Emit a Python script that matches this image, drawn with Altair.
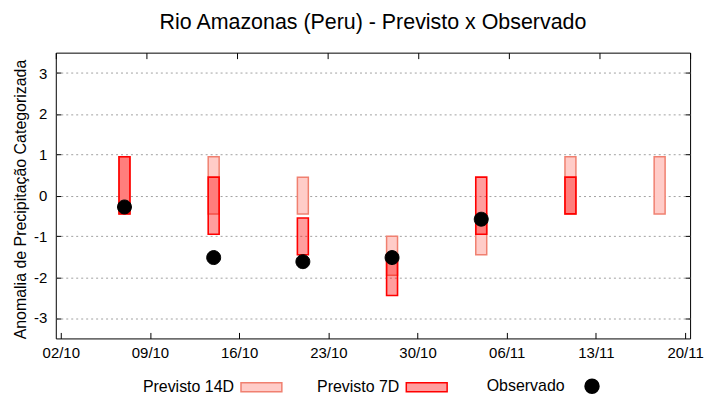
import altair as alt
import pandas as pd

# ---- data ----
datas = ["2024-10-07T00:00:00", "2024-10-14T00:00:00", "2024-10-21T00:00:00",
         "2024-10-28T00:00:00", "2024-11-04T00:00:00", "2024-11-11T00:00:00",
         "2024-11-18T00:00:00"]
prev14_min = [-0.45, -0.45, -0.45, -1.95, -1.45, -0.45, -0.45]
prev14_max = [0.95, 0.95, 0.45, -1.00, -0.45, 0.95, 0.95]
prev7_min = [-0.45, -0.95, -1.45, -2.45, -0.95, -0.45, None]
prev7_max = [0.95, 0.45, -0.55, -1.45, 0.45, 0.45, None]
observado = [-0.28, -1.52, -1.62, -1.52, -0.58, None, None]

series = ["Previsto 14D", "Previsto 7D", "Observado"]
fill_colors = ["#FFCCC8", "rgba(255,0,0,0.38)", "#000000"]
stroke_colors = ["#F08070", "#FF0000", "#000000"]
rect_path = "M-2.93,-0.64H2.93V0.64H-2.93Z"
circle_path = "M-1,0A1,1 0 1,0 1,0A1,1 0 1,0 -1,0Z"
shapes = [rect_path, rect_path, circle_path]

tick_dates = [(2024, 10, 2), (2024, 10, 9), (2024, 10, 16), (2024, 10, 23),
              (2024, 10, 30), (2024, 11, 6), (2024, 11, 13), (2024, 11, 20)]
y_ticks = [-3, -2, -1, 0, 1, 2, 3]
y_domain = [-3.5, 3.5]

# ---- tables ----
rows = []
for d, lo, hi in zip(datas, prev14_min, prev14_max):
    rows.append({"data": d, "serie": "Previsto 14D", "lo": lo, "hi": hi})
for d, lo, hi in zip(datas, prev7_min, prev7_max):
    if lo is not None:
        rows.append({"data": d, "serie": "Previsto 7D", "lo": lo, "hi": hi})
bars_df = pd.DataFrame(rows)
bars_df["ordem"] = range(len(bars_df))

obs_df = pd.DataFrame([{"data": d, "serie": "Observado", "lo": v}
                       for d, v in zip(datas, observado) if v is not None])

FONT = "Liberation Sans"
dt = lambda t: alt.DateTime(year=t[0], month=t[1], date=t[2])
x_scale = alt.Scale(domain=[dt(tick_dates[0]), dt(tick_dates[-1])])
y_scale = alt.Scale(domain=y_domain, nice=False, zero=False)
tick_values = [dt(t) for t in tick_dates]

legend = alt.Legend(
    title=None, orient="none", legendX=82, legendY=327, direction="horizontal",
    labelAlign="right", labelOffset={"expr": "-35.5"}, symbolOffset=116.5, symbolSize=196,
    columnPadding=17, labelFontSize=16, labelFont=FONT, labelColor="#000000",
    padding=0, symbolStrokeWidth=1.5, labelLimit=300,
)
fill_enc = alt.Fill("serie:N", scale=alt.Scale(domain=series, range=fill_colors), legend=legend)
stroke_enc = alt.Stroke("serie:N", scale=alt.Scale(domain=series, range=stroke_colors), legend=legend)

x_axis = alt.Axis(orient="bottom", values=tick_values, format="%d/%m", offset=-6,
                  tickSize=6, domain=False, grid=False, labelPadding=7,
                  labelFlush=False, labelOverlap=False, labelFontSize=15,
                  labelFont=FONT, labelColor="#000000", tickColor="#000000")
y_axis = alt.Axis(orient="left", values=y_ticks, labelExpr="'' + datum.value",
                  offset=-5, tickSize=5, domain=False, grid=True,
                  gridColor="#A0A0A0", gridDash=[2, 3], gridWidth=1,
                  labelPadding=9, labelFontSize=15, labelFont=FONT,
                  labelColor="#000000", tickColor="#000000",
                  titleFont=FONT, titleFontSize=16, titleFontWeight="normal",
                  titleColor="#000000", titleAngle=270, titleBaseline="alphabetic",
                  titleX=-35, titleY=147)
Y_TITLE = "Anomalia de Precipitação Categorizada"

bars = alt.Chart(bars_df).mark_bar(size=11).encode(
    x=alt.X("data:T", title=None, scale=x_scale, axis=x_axis),
    y=alt.Y("lo:Q", title=Y_TITLE, scale=y_scale, axis=y_axis),
    y2="hi:Q",
    fill=fill_enc,
    stroke=stroke_enc,
    strokeWidth=alt.condition(alt.datum.serie == "Previsto 7D", alt.value(1.6), alt.value(1.5)),
    order=alt.Order("ordem:Q"),
)

points = alt.Chart(obs_df).mark_point(filled=True, size=196, opacity=1, strokeWidth=1).encode(
    x=alt.X("data:T", title=None, scale=x_scale, axis=x_axis),
    y=alt.Y("lo:Q", title=Y_TITLE, scale=y_scale, axis=y_axis),
    fill=fill_enc,
    stroke=stroke_enc,
    shape=alt.Shape("serie:N", scale=alt.Scale(domain=series, range=shapes), legend=legend),
)

mirror = alt.Chart(obs_df).mark_point(opacity=0).encode(
    x=alt.X("data:T", scale=x_scale, title=None,
            axis=alt.Axis(orient="top", values=tick_values, labels=False, offset=-6,
                          tickSize=6, domain=False, grid=False, tickColor="#000000")),
    y=alt.Y("lo:Q", scale=y_scale, title=None,
            axis=alt.Axis(orient="right", values=y_ticks, labels=False, offset=-5,
                          tickSize=5, domain=False, grid=False, tickColor="#000000")),
)

chart = alt.layer(alt.layer(bars, points), mirror).resolve_scale(
    x="independent", y="independent"
).properties(
    width=637, height=287,
    background="white",
    title=alt.TitleParams("Rio Amazonas (Peru) - Previsto x Observado", font=FONT,
                          fontSize=21.5, fontWeight="normal", color="#000000",
                          anchor="middle", offset=19),
    autosize=alt.AutoSizeParams(type="none"),
    padding={"left": 48, "top": 44, "right": 22, "bottom": 61},
).configure_view(stroke="#000000", strokeWidth=1)

chart.save("out.html", embed_options={"renderer": "svg", "actions": False})
